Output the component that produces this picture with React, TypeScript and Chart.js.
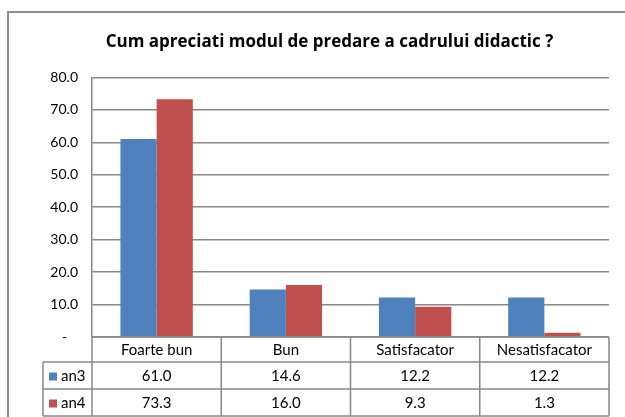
import React, { useEffect, useRef } from "react";
import { Chart, registerables } from "chart.js";

Chart.register(...registerables);

const chartTitle = "Cum apreciati modul de predare a cadrului didactic ?";
const categories = ["Foarte bun", "Bun", "Satisfacator", "Nesatisfacator"];
const seriesNames = ["an3", "an4"];
const an3 = [61.0, 14.6, 12.2, 12.2];
const an4 = [73.3, 16.0, 9.3, 1.3];
const seriesColors = ["#4F81BD", "#C0504D"];
const yMax = 80;
const yStep = 10;

const FONT = "Lato, 'Open Sans', sans-serif";
const TITLE_FONT = "'Open Sans', Lato, sans-serif";
const GRID = "#888888";
const TEXT = "#000000";

const tablePlugin = {
  id: "dataTable",
  afterDraw(chart: any) {
    const { ctx, chartArea, scales } = chart;
    const xs = scales.x;
    const left = chartArea.left;
    const right = chartArea.right;
    const top = chartArea.bottom;
    const catW = (right - left) / categories.length;
    const rowTops = [top, top + 25, top + 52, top + 79];
    const legendLeft = 43;
    const seriesData = [an3, an4];

    ctx.save();
    ctx.strokeStyle = GRID;
    ctx.lineWidth = 1.5;
    ctx.beginPath();
    ctx.moveTo(left, rowTops[0]);
    ctx.lineTo(right, rowTops[0]);
    for (let r = 1; r < rowTops.length; r++) {
      ctx.moveTo(legendLeft, rowTops[r]);
      ctx.lineTo(right, rowTops[r]);
    }
    for (let i = 0; i <= categories.length; i++) {
      const xx = i < categories.length ? xs.getPixelForValue(i) - catW / 2 : xs.getPixelForValue(i - 1) + catW / 2;
      ctx.moveTo(xx, rowTops[0]);
      ctx.lineTo(xx, rowTops[3]);
    }
    ctx.moveTo(legendLeft, rowTops[1]);
    ctx.lineTo(legendLeft, rowTops[3]);
    ctx.stroke();

    ctx.fillStyle = TEXT;
    ctx.font = `15px ${FONT}`;
    ctx.textAlign = "center";
    ctx.textBaseline = "middle";
    categories.forEach((c, i) => {
      ctx.fillText(c, xs.getPixelForValue(i), (rowTops[0] + rowTops[1]) / 2 + 0.5);
    });
    seriesData.forEach((arr, s) => {
      const yMid = (rowTops[s + 1] + rowTops[s + 2]) / 2 + 1;
      arr.forEach((v, i) => {
        ctx.fillStyle = TEXT;
        ctx.textAlign = "center";
        ctx.fillText(v.toFixed(1), xs.getPixelForValue(i), yMid);
      });
      ctx.fillStyle = seriesColors[s];
      ctx.fillRect(legendLeft + 6, yMid - 4, 8, 8);
      ctx.fillStyle = TEXT;
      ctx.textAlign = "left";
      ctx.fillText(seriesNames[s], legendLeft + 18, yMid);
    });
    ctx.restore();
  },
};

export default function App() {
  const ref = useRef<HTMLCanvasElement | null>(null);

  useEffect(() => {
    if (!ref.current) return;
    const chart = new Chart(ref.current, {
      type: "bar",
      data: {
        labels: categories,
        datasets: [
          { label: seriesNames[0], data: an3, backgroundColor: seriesColors[0], borderWidth: 0 },
          { label: seriesNames[1], data: an4, backgroundColor: seriesColors[1], borderWidth: 0 },
        ],
      },
      options: {
        animation: false,
        responsive: false,
        devicePixelRatio: 1,
        layout: { padding: { left: 50, right: 16, top: 0, bottom: 80 } },
        datasets: { bar: { categoryPercentage: 0.56, barPercentage: 1.0 } },
        plugins: {
          legend: { display: false },
          tooltip: { enabled: false },
          title: {
            display: true,
            text: chartTitle,
            color: TEXT,
            font: { family: TITLE_FONT, size: 17, weight: "bold", lineHeight: 1.2 },
            padding: { top: 32, bottom: 25 },
          },
        },
        scales: {
          x: {
            display: false,
          },
          y: {
            min: 0,
            max: yMax,
            afterFit: (scale: any) => {
              scale.width = 42;
            },
            border: { display: true, color: GRID, width: 1.5 },
            grid: { color: GRID, lineWidth: 1.5, drawTicks: false },
            ticks: {
              stepSize: yStep,
              padding: 14,
              color: TEXT,
              font: { family: FONT, size: 14 },
              callback: (v: any) => (Number(v) === 0 ? "-   " : Number(v).toFixed(1)),
            },
          },
        },
      },
      plugins: [tablePlugin],
    });
    return () => chart.destroy();
  }, []);

  return (
    <div style={{ position: "fixed", left: 0, top: 0, width: 625, height: 417, overflow: "hidden", background: "#fff" }}>
      <div
        style={{
          position: "absolute",
          left: 7,
          top: 11,
          width: 700,
          height: 500,
          border: "2px solid #8c8c8c",
          boxSizing: "border-box",
        }}
      />
      <canvas ref={ref} width={625} height={417} style={{ position: "absolute", left: 0, top: 0 }} />
    </div>
  );
}
